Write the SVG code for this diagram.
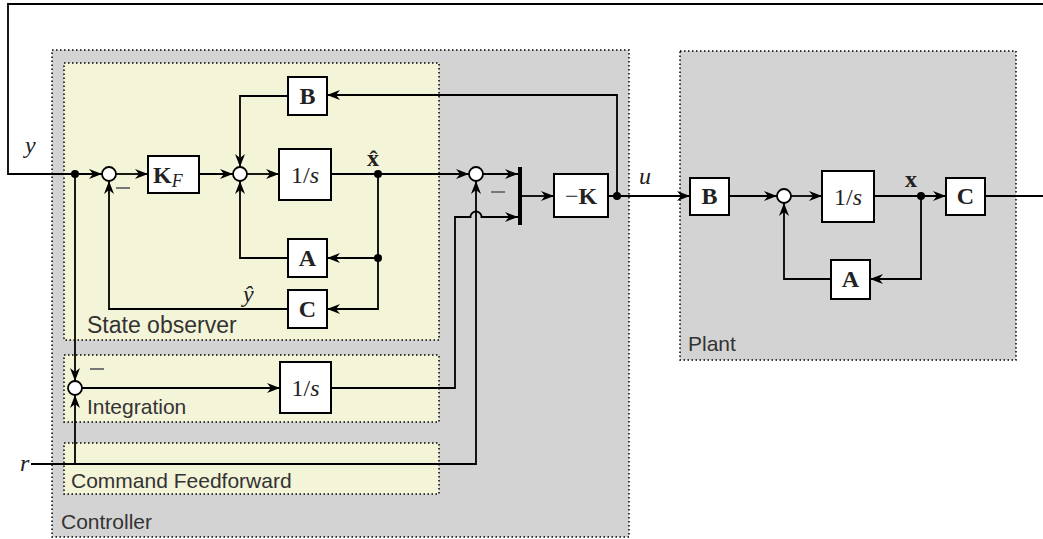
<svg xmlns="http://www.w3.org/2000/svg" width="1043" height="539" viewBox="0 0 1043 539">
<defs>
<marker id="ah" markerWidth="14" markerHeight="12" viewBox="-14 -6 14 12" refX="0" refY="0" orient="auto" markerUnits="userSpaceOnUse">
<path d="M0,0 L-13,-5 L-9,0 L-13,5 Z" fill="#000"/>
</marker>
</defs>
<style>
.grp{fill:#d3d3d3;stroke:#000;stroke-width:1.5;stroke-dasharray:1.5 2.5}
.sub{fill:#f4f4d8;stroke:#000;stroke-width:1.5;stroke-dasharray:1.5 2.5}
.blk{fill:#fff;stroke:#000;stroke-width:2}
.sum{fill:#fff;stroke:#000;stroke-width:1.8}
.dot{fill:#000}
.w{fill:none;stroke:#000;stroke-width:1.8}
.a{marker-end:url(#ah)}
.lbl{font-family:"Liberation Sans",Arial,sans-serif;fill:#333;font-size:21px}
.m{font-family:"Liberation Serif","Times New Roman",serif;fill:#222;font-size:24px}
.mb{font-family:"Liberation Serif","Times New Roman",serif;fill:#222;font-size:24px;font-weight:bold}
.mi{font-family:"Liberation Serif","Times New Roman",serif;fill:#222;font-size:24px;font-style:italic}
.neg{stroke:#777;stroke-width:2}
</style>

<g id="controller">
<rect class="grp" x="52" y="50" width="577" height="487"/>
<text class="lbl" x="61" y="529">Controller</text>
</g>
<g id="plant">
<rect class="grp" x="680" y="51" width="336" height="309"/>
<text class="lbl" x="688" y="351">Plant</text>
</g>
<g id="state-observer">
<rect class="sub" x="64" y="63" width="375" height="277"/>
<text class="lbl" x="87" y="333" style="font-size:23px">State observer</text>
</g>
<g id="integration">
<rect class="sub" x="64" y="355" width="375" height="67"/>
<text class="lbl" x="87" y="414">Integration</text>
</g>
<g id="command-feedforward">
<rect class="sub" x="64" y="443" width="375" height="51"/>
<text class="lbl" x="71" y="488">Command Feedforward</text>
</g>

<g id="connectors">
<path class="w a" d="M1043,4 H8 V174 H102"/>
<path class="w a" d="M116,174 H148"/>
<path class="w a" d="M199,174 H233"/>
<path class="w a" d="M247,174 H279"/>
<path class="w a" d="M331,174 H469"/>
<path class="w a" d="M288,96 H240 V167"/>
<path class="w a" d="M288,258 H240 V181"/>
<path class="w a" d="M378,174 V309 H327"/>
<path class="w a" d="M378,258 H327"/>
<path class="w a" d="M288,309 H109 V181"/>
<path class="w a" d="M617,196 V95 H327"/>
<path class="w a" d="M483,174 H518"/>
<path class="w a" d="M522,196 H554"/>
<path class="w a" d="M608,196 H690"/>
<path class="w a" d="M729,196 H777"/>
<path class="w a" d="M791,196 H822"/>
<path class="w a" d="M874,196 H946"/>
<path class="w" d="M985,196 H1043"/>
<path class="w a" d="M921,196 V279 H870"/>
<path class="w a" d="M831,279 H784 V203"/>
<path class="w a" d="M75,174 V381"/>
<path class="w a" d="M31,464 H476 V181"/>
<path class="w a" d="M75,464 V395"/>
<path class="w a" d="M82,388 H280"/>
<path class="w a" d="M331,388 H455 V217 H470.5 A5.5,5.5 0 0 1 481.5,217 H518"/>
<line x1="520" y1="167" x2="520" y2="225" stroke="#000" stroke-width="4"/>
</g>

<g id="sum-obs-1"><circle class="sum" cx="109" cy="174" r="7"/><line class="neg" x1="116" y1="188" x2="130" y2="188"/></g>
<g id="sum-obs-2"><circle class="sum" cx="240" cy="174" r="7"/></g>
<g id="sum-u"><circle class="sum" cx="476" cy="174" r="7"/><line class="neg" x1="491" y1="192" x2="505" y2="192"/></g>
<g id="sum-int"><circle class="sum" cx="75" cy="388" r="7"/><line class="neg" x1="90" y1="369" x2="104" y2="369"/></g>
<g id="sum-plant"><circle class="sum" cx="784" cy="196" r="7"/></g>

<g id="dots">
<circle class="dot" cx="75" cy="174" r="4"/>
<circle class="dot" cx="378" cy="174" r="4"/>
<circle class="dot" cx="378" cy="258" r="4"/>
<circle class="dot" cx="617" cy="196" r="4"/>
<circle class="dot" cx="921" cy="196" r="4"/>
</g>

<g id="KF"><rect class="blk" x="148" y="156" width="51" height="37"/><text class="mb" x="153" y="183">K<tspan class="mi" style="font-weight:normal;font-size:18px" dy="4">F</tspan></text></g>
<g id="obs-int"><rect class="blk" x="279" y="149" width="52" height="51"/><text class="m" x="305" y="183" text-anchor="middle">1/<tspan font-style="italic">s</tspan></text></g>
<g id="obs-B"><rect class="blk" x="288" y="77" width="39" height="38"/><text class="mb" x="307.5" y="104" text-anchor="middle">B</text></g>
<g id="obs-A"><rect class="blk" x="288" y="239" width="39" height="38"/><text class="mb" x="307.5" y="266" text-anchor="middle">A</text></g>
<g id="obs-C"><rect class="blk" x="288" y="290" width="39" height="38"/><text class="mb" x="307.5" y="317" text-anchor="middle">C</text></g>
<g id="int-int"><rect class="blk" x="280" y="362" width="51" height="51"/><text class="m" x="305.5" y="396" text-anchor="middle">1/<tspan font-style="italic">s</tspan></text></g>
<g id="gain-K"><rect class="blk" x="554" y="174" width="54" height="43"/><text class="mb" x="581" y="204" text-anchor="middle"><tspan font-weight="normal">−</tspan>K</text></g>
<g id="plant-B"><rect class="blk" x="690" y="178" width="39" height="37"/><text class="mb" x="709.5" y="204" text-anchor="middle">B</text></g>
<g id="plant-int"><rect class="blk" x="822" y="171" width="52" height="51"/><text class="m" x="848" y="205" text-anchor="middle">1/<tspan font-style="italic">s</tspan></text></g>
<g id="plant-C"><rect class="blk" x="946" y="178" width="39" height="37"/><text class="mb" x="965.5" y="204" text-anchor="middle">C</text></g>
<g id="plant-A"><rect class="blk" x="831" y="260" width="39" height="39"/><text class="mb" x="850.5" y="287" text-anchor="middle">A</text></g>

<g id="labels">
<text class="mi" x="25" y="153">y</text>
<text class="mb" x="367" y="166">x̂</text>
<text class="mi" x="243" y="302">ŷ</text>
<text class="mi" x="639" y="184">u</text>
<text class="mb" x="905" y="187">x</text>
<text class="mi" x="20" y="471">r</text>
</g>
</svg>
